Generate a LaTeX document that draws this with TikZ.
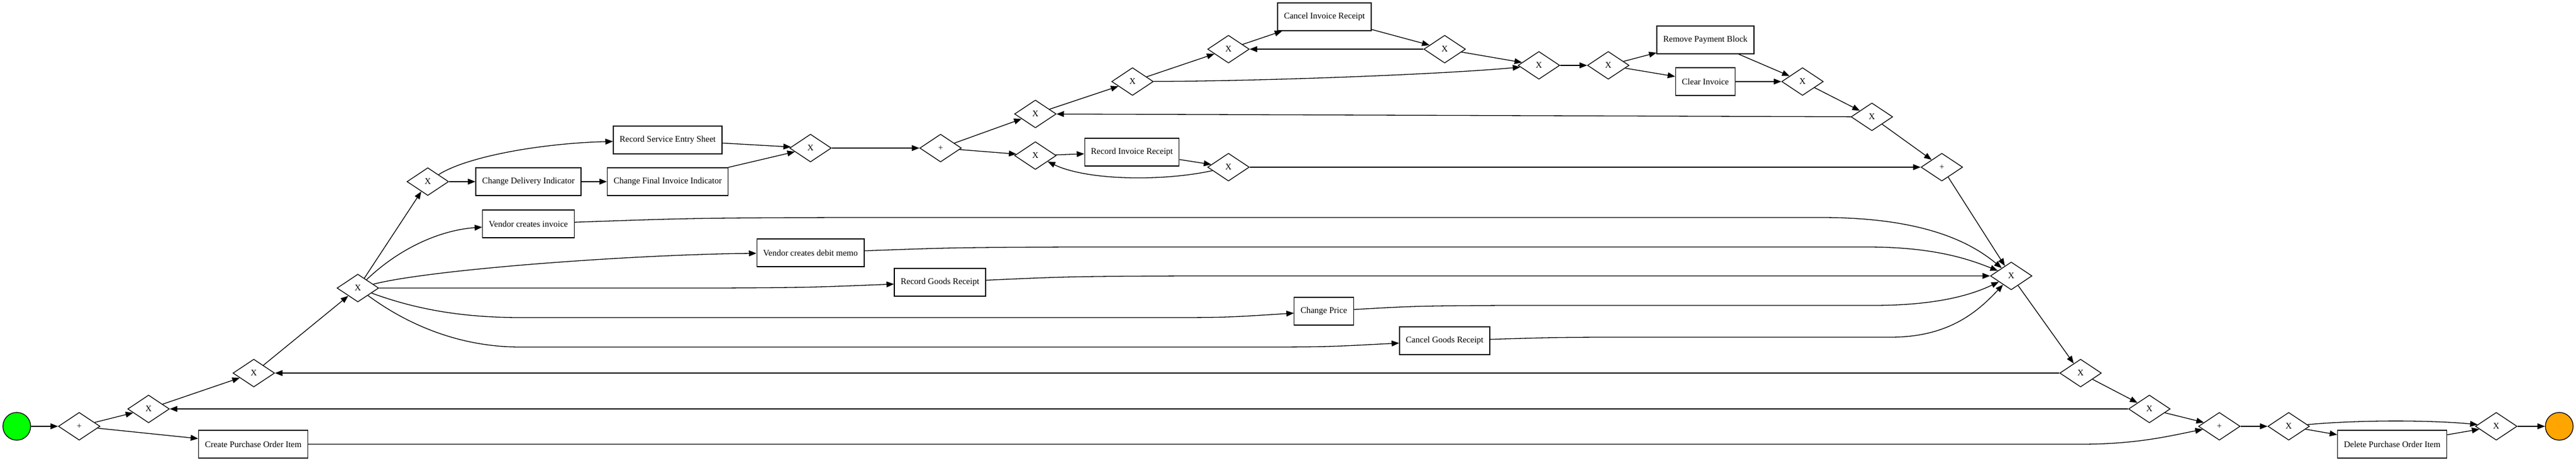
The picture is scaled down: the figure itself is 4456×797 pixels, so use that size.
\documentclass[tikz,border=0pt]{standalone}
\usepackage{fontspec}
\setmainfont{Liberation Serif}
\usetikzlibrary{shapes.geometric,arrows.meta}
\definecolor{startgreen}{RGB}{0,255,0}
\definecolor{endorange}{RGB}{255,165,0}

\begin{document}
\begin{tikzpicture}[x=1pt,y=-1pt,
        every node/.style={font=\fontsize{15}{18}\selectfont},
        task/.style={draw,rectangle,line width=1.3pt,minimum height=48pt,inner xsep=11pt,inner ysep=0pt},
        gate/.style={draw,diamond,aspect=1.5,minimum width=72pt,minimum height=48pt,inner sep=0pt,line width=1.3pt},
        event/.style={draw,circle,minimum size=48pt,inner sep=0pt,line width=1.3pt},
        flow/.style={line width=1.3pt,-{Triangle[length=13pt,width=10pt]}}]

    \useasboundingbox (0,0) rectangle (4456,797);

    \node[event,fill=startgreen] (start) at (29,737) {};
    \node[gate] (p1) at (137,737) {+};
    \node[gate] (g1) at (257,707) {X};
    \node[gate] (g2) at (439,645) {X};
    \node[gate] (g3) at (619,498) {X};
    \node[task] (cpoi) at (438,768) {Create Purchase Order Item};
    \node[gate] (g4) at (740,314) {X};
    \node[task] (rses) at (1155,242) {Record Service Entry Sheet};
    \node[task] (cdi) at (914,314) {Change Delivery Indicator};
    \node[task] (cfii) at (1155,314) {Change Final Invoice Indicator};
    \node[task] (vci) at (914,387) {Vendor creates invoice};
    \node[task] (vcdm) at (1402,437) {Vendor creates debit memo};
    \node[task] (rgr) at (1626,488) {Record Goods Receipt};
    \node[task] (cp) at (2290,538) {Change Price};
    \node[task] (cgr) at (2499,589) {Cancel Goods Receipt};
    \node[gate] (g5) at (1402,256) {X};
    \node[gate] (p2) at (1627,256) {+};
    \node[gate] (g6) at (1791,197) {X};
    \node[gate] (g7) at (1959,141) {X};
    \node[gate] (g8) at (2125,85) {X};
    \node[gate] (g9) at (1791,269) {X};
    \node[task] (rir) at (1958,263) {Record Invoice Receipt};
    \node[gate] (g10) at (2125,289) {X};
    \node[task] (cir) at (2291,29) {Cancel Invoice Receipt};
    \node[gate] (g11) at (2499,85) {X};
    \node[gate] (g12) at (2662,113) {X};
    \node[gate] (g13) at (2782,113) {X};
    \node[task] (rpb) at (2950,69) {Remove Payment Block};
    \node[task] (ci) at (2950,141) {Clear Invoice};
    \node[gate] (g14) at (3118,141) {X};
    \node[gate] (g15) at (3238,202) {X};
    \node[gate] (p3) at (3359,289) {+};
    \node[gate] (g16) at (3479,477) {X};
    \node[gate] (g17) at (3599,645) {X};
    \node[gate] (g18) at (3718,707) {X};
    \node[gate] (p4) at (3839,737) {+};
    \node[gate] (g19) at (3959,737) {X};
    \node[task] (dpoi) at (4138,768) {Delete Purchase Order Item};
    \node[gate] (g20) at (4318,737) {X};
    \node[event,fill=endorange] (end) at (4427,737) {};

    \draw[flow] (start) -- (p1);
    \draw[flow] (p1) -- (g1);
    \draw[flow] (p1) -- (cpoi);
    \draw[flow] (g1) -- (g2);
    \draw[flow] (g2) -- (g3);
    \draw[flow] (g3) -- (g4);
    \draw[flow] (g3) .. controls (690,430) and (760,398) .. (vci);
    \draw[flow] (g3) .. controls (750,465) and (1100,440) .. (vcdm);
    \draw[flow] (g3) -- (1250,498) .. controls (1400,497) .. (rgr);
    \draw[flow] (g3) .. controls (720,535) and (800,549) .. (900,549) -- (2000,549) .. controls (2120,549) .. (cp);
    \draw[flow] (g3) .. controls (710,565) and (800,600) .. (900,600) -- (2150,600) .. controls (2290,600) .. (cgr);
    \draw[flow] (g4) .. controls (805,272) and (930,248) .. (rses);
    \draw[flow] (g4) -- (cdi);
    \draw[flow] (cdi) -- (cfii);
    \draw[flow] (rses) -- (g5);
    \draw[flow] (cfii) -- (g5);
    \draw[flow] (g5) -- (p2);
    \draw[flow] (p2) -- (g6);
    \draw[flow] (p2) -- (g9);
    \draw[flow] (g6) -- (g7);
    \draw[flow] (g7) -- (g8);
    \draw[flow] (g9) -- (rir);
    \draw[flow] (rir) -- (g10);
    \draw[flow] (g10) .. controls (2010,314) and (1880,312) .. (g9);
    \draw[flow] (g8) -- (cir);
    \draw[flow] (cir) -- (g11);
    \draw[flow] (g11) -- (g8);
    \draw[flow] (g7) .. controls (2200,140) and (2500,128) .. (g12);
    \draw[flow] (g11) -- (g12);
    \draw[flow] (g12) -- (g13);
    \draw[flow] (g13) -- (rpb);
    \draw[flow] (g13) -- (ci);
    \draw[flow] (rpb) -- (g14);
    \draw[flow] (ci) -- (g14);
    \draw[flow] (g14) -- (g15);
    \draw[flow] (g15) -- (g6);
    \draw[flow] (g15) -- (p3);
    \draw[flow] (g10) -- (p3);
    \draw[flow] (p3) -- (g16);
    \draw[flow] (vci) .. controls (1200,377) .. (1450,376) -- (3150,376) .. controls (3330,376) and (3410,420) .. (g16);
    \draw[flow] (vcdm) .. controls (1650,428) .. (1850,427) -- (3230,427) .. controls (3350,427) and (3410,450) .. (g16);
    \draw[flow] (rgr) .. controls (1850,478) .. (2050,477) -- (g16);
    \draw[flow] (cp) .. controls (2450,529) .. (2600,528) -- (3240,528) .. controls (3350,528) and (3410,510) .. (g16);
    \draw[flow] (cgr) .. controls (2700,583) .. (2850,583) -- (3270,583) .. controls (3370,583) and (3420,540) .. (g16);
    \draw[flow] (g16) -- (g17);
    \draw[flow] (g17) -- (g2);
    \draw[flow] (g17) -- (g18);
    \draw[flow] (g18) -- (g1);
    \draw[flow] (g18) -- (p4);
    \draw[flow] (cpoi) -- (3600,768) .. controls (3700,768) and (3760,752) .. (p4);
    \draw[flow] (p4) -- (g19);
    \draw[flow] (g19) .. controls (4080,726) and (4200,726) .. (g20);
    \draw[flow] (g19) -- (dpoi);
    \draw[flow] (dpoi) -- (g20);
    \draw[flow] (g20) -- (end);
\end{tikzpicture}
\end{document}
